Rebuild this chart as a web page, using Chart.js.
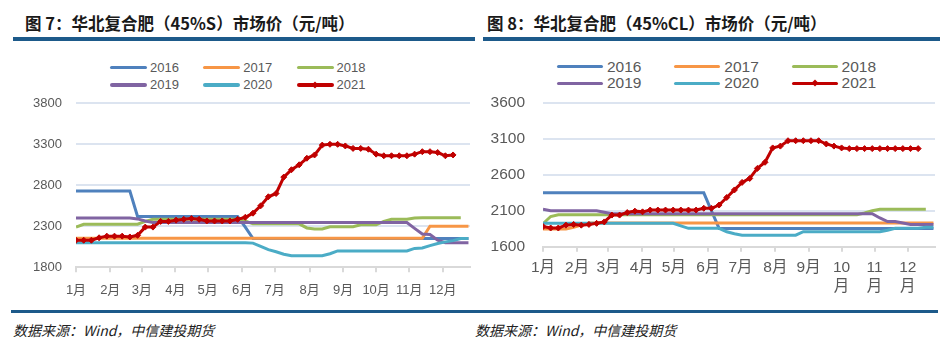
<!DOCTYPE html>
<html>
<head>
<meta charset="utf-8">
<script src="https://cdn.jsdelivr.net/npm/chart.js@4.4.1/dist/chart.umd.min.js"></script>
<style>
body { margin: 0; background: #fff; width: 951px; height: 349px; position: relative; overflow: hidden; }
.title { position: absolute; top: 12px; font: bold 16.5px "Noto Sans CJK SC", sans-serif; color: #1a1a1a; white-space: nowrap; line-height: 22px; }
.bar { position: absolute; background: #1d5a8a; }
.src { position: absolute; top: 320px; font: italic 14px "Noto Sans CJK SC", sans-serif; color: #222; line-height: 20px; white-space: nowrap; }
.legend { position: absolute; display: grid; color: #595959; font-family: "Liberation Sans", sans-serif; }
.item { display: flex; align-items: center; white-space: nowrap; }
.sw { position: relative; border-radius: 2px; }
.dia { position: absolute; left: 50%; top: 50%; width: 5px; height: 5px; transform: translate(-50%, -50%) rotate(45deg); }
canvas { position: absolute; }
</style>
</head>
<body>
<div class="title" style="left:25px">图 7：华北复合肥（45%S）市场价（元/吨）</div>
<div class="title" style="left:487px">图 8：华北复合肥（45%CL）市场价（元/吨）</div>
<div class="bar" style="left:13px;top:37px;width:462px;height:4px"></div>
<div class="bar" style="left:483px;top:37px;width:457px;height:4px"></div>
<div id="legL" class="legend"></div>
<div id="legR" class="legend"></div>
<canvas id="chartL" width="475" height="215" style="left:0;top:90px"></canvas>
<canvas id="chartR" width="476" height="215" style="left:475px;top:90px"></canvas>
<div class="bar" style="left:11px;top:310px;width:927px;height:3px"></div>
<div class="src" style="left:13px">数据来源：Wind，中信建投期货</div>
<div class="src" style="left:475px">数据来源：Wind，中信建投期货</div>
<script>
// weekly prices, index = week of year
var seriesNames = ['2016', '2017', '2018', '2019', '2020', '2021'];
var seriesColors = ['#4F81BD', '#F79646', '#9BBB59', '#8064A2', '#4BACC6', '#C00000'];

var monthTicks = [0, 4.45, 8.55, 12.9, 17.1, 21.6, 25.8, 30.35, 34.7, 39.0, 43.3, 47.65];
var monthLabelsL = ['1月', '2月', '3月', '4月', '5月', '6月', '7月', '8月', '9月', '10月', '11月', '12月'];
var monthLabelsR = ['1月', '2月', '3月', '4月', '5月', '6月', '7月', '8月', '9月', ['10', '月'], ['11', '月'], ['12', '月']];

// 图7 45%S
var yMinL = 1800, yMaxL = 3800;
var s2016L = [2730, 2730, 2730, 2730, 2730, 2730, 2730, 2730,
    2420, 2420, 2420, 2420, 2420, 2420, 2420, 2420, 2420, 2420, 2420, 2420, 2420, 2420,
    2290,
    2150, 2150, 2150, 2150, 2150, 2150, 2150, 2150, 2150, 2150, 2150, 2150, 2150, 2150, 2150,
    2150, 2150, 2150, 2150, 2150, 2150, 2150, 2150, 2150, 2150, 2150, 2150, 2150, 2150];
var s2017L = [2155, 2155, 2155, 2155, 2155, 2155, 2155, 2155, 2155, 2155, 2155, 2155, 2155, 2155, 2155, 2155,
    2155, 2155, 2155, 2155, 2155, 2155, 2155, 2155, 2155, 2155, 2155, 2155, 2155, 2155, 2155, 2155,
    2155, 2155, 2155, 2155, 2155, 2155, 2155, 2155, 2155, 2155, 2155, 2155, 2155, 2155,
    2300, 2300, 2300, 2300, 2300, 2300];
var s2018L = [2290, 2325, 2325, 2325, 2325, 2325, 2325, 2325, 2325, 2360,
    2385, 2385, 2385, 2385, 2385, 2385, 2385, 2385, 2385, 2385, 2385, 2385,
    2365, 2330, 2330, 2330, 2330, 2330, 2330, 2330, 2280, 2268, 2268,
    2295, 2295, 2295, 2295, 2318, 2318, 2318, 2360, 2386, 2386, 2386, 2400,
    2405, 2405, 2405, 2405, 2405, 2405];
var s2019L = [2400, 2400, 2400, 2400, 2400, 2400, 2400, 2400, 2390, 2365,
    2345, 2345, 2345, 2345, 2345, 2345, 2345, 2345, 2345, 2345, 2345, 2345, 2345, 2345, 2345, 2345, 2345,
    2345, 2345, 2345, 2345, 2345, 2345, 2345, 2345, 2345, 2345, 2345, 2345, 2345, 2345, 2345, 2345, 2345,
    2275, 2206, 2200, 2130, 2100, 2100, 2100, 2100];
var s2020L = [2100, 2100, 2100, 2100, 2100, 2100, 2100, 2100, 2100, 2100, 2100, 2100, 2100, 2100, 2100, 2100,
    2100, 2100, 2100, 2100, 2100, 2100, 2100,
    2095, 2055, 2015, 1990, 1960, 1940, 1940, 1940, 1940, 1940, 1965,
    2000, 2000, 2000, 2000, 2000, 2000, 2000, 2000, 2000, 2000,
    2030, 2035, 2065, 2090, 2110, 2125, 2150, 2150];
var s2021L = [2130, 2130, 2130, 2160, 2180, 2180, 2180, 2170, 2190, 2290,
    2290, 2360, 2360, 2375, 2385, 2395, 2385, 2365, 2365, 2365,
    2365, 2385, 2410, 2460, 2550, 2660, 2700, 2900, 2990, 3050,
    3130, 3170, 3290, 3300, 3300, 3280, 3250, 3250, 3240, 3180,
    3160, 3160, 3160, 3160, 3180, 3210, 3210, 3200, 3160, 3170];

// 图8 45%CL
var yMinR = 1600, yMaxR = 3600;
var s2016R = [2350, 2350, 2350, 2350, 2350, 2350, 2350, 2350, 2350, 2350, 2350,
    2350, 2350, 2350, 2350, 2350, 2350, 2350, 2350, 2350, 2350, 2350,
    2100,
    1855, 1855, 1855, 1855, 1855, 1855, 1855, 1855, 1855, 1855, 1855, 1855, 1855, 1855, 1855,
    1855, 1855, 1855, 1855, 1855, 1855, 1855, 1855, 1855, 1855, 1855, 1855, 1855, 1855];
var s2017R = [1845, 1845, 1845, 1845, 1870, 1900,
    1930, 1930, 1930, 1930, 1930, 1930, 1930, 1930, 1930, 1930, 1930, 1930, 1930, 1930, 1930, 1930,
    1930, 1930, 1930, 1930, 1930, 1930, 1930, 1930, 1930, 1930, 1930, 1930, 1930, 1930, 1930, 1930,
    1930, 1930, 1930, 1930, 1930, 1930, 1930, 1930, 1930, 1930, 1930, 1930, 1930, 1930];
var s2018R = [1920, 2020,
    2045, 2045, 2045, 2045, 2045, 2045, 2045, 2045, 2045, 2045, 2045, 2045, 2045, 2045, 2045, 2045, 2045, 2045, 2045, 2045,
    2045, 2045, 2045, 2045, 2045, 2045, 2045, 2045, 2045, 2045, 2045, 2045, 2045, 2045, 2045, 2045, 2045, 2045, 2045, 2045,
    2070, 2100, 2120, 2120, 2120, 2120, 2120, 2120, 2120];
var s2019R = [2120, 2100, 2100, 2100, 2100, 2100, 2100, 2100, 2080,
    2060, 2060, 2060, 2060, 2060, 2060, 2060, 2060, 2060, 2060, 2060, 2060, 2060, 2060, 2060, 2060, 2060, 2060,
    2060, 2060, 2060, 2060, 2060, 2060, 2060, 2060, 2060, 2060, 2060, 2060, 2060, 2060, 2060, 2060, 2060,
    2000, 1950, 1950, 1930, 1910, 1910, 1910, 1910];
var s2020R = [1925, 1925, 1925, 1925, 1925, 1925, 1925, 1925, 1925, 1925, 1925, 1925, 1925, 1925, 1925, 1925, 1925, 1925,
    1890, 1856, 1856, 1856, 1856, 1856, 1808, 1780,
    1760, 1760, 1760, 1760, 1760, 1760, 1760, 1760,
    1808, 1808, 1808, 1808, 1808, 1808, 1808, 1808, 1808, 1808, 1808,
    1830, 1856, 1856, 1856, 1856, 1870, 1870];
var s2021R = [1880, 1860, 1860, 1900, 1910, 1900, 1910, 1925, 1945, 2040,
    2040, 2075, 2095, 2085, 2110, 2110, 2110, 2110, 2110, 2110,
    2110, 2135, 2135, 2180, 2285, 2390, 2495, 2550, 2690, 2775,
    2975, 3000, 3075, 3075, 3075, 3075, 3075, 3030, 3000, 2975,
    2965, 2965, 2965, 2965, 2965, 2965, 2965, 2965, 2965, 2965];

var FONT = "'Liberation Sans', 'Noto Sans CJK SC', sans-serif";

function makeChart(id, series, opt) {
    var datasets = series.map(function (vals, i) {
        return {
            label: seriesNames[i],
            data: vals.map(function (v, w) { return { x: w, y: v }; }),
            borderColor: seriesColors[i],
            backgroundColor: seriesColors[i],
            borderWidth: 3,
            pointRadius: i === 5 ? 3 : 0,
            pointStyle: 'rectRot',
            pointBorderWidth: 1,
            order: 5 - i,
            tension: 0
        };
    });

    return new Chart(document.getElementById(id), {
        type: 'line',
        data: { datasets: datasets },
        options: {
            responsive: false,
            animation: false,
            devicePixelRatio: 1,
            layout: { padding: opt.padding },
            plugins: { legend: { display: false }, tooltip: { enabled: false } },
            scales: {
                x: {
                    type: 'linear',
                    min: 0,
                    max: 51.2,
                    afterBuildTicks: function (ax) { ax.ticks = monthTicks.map(function (v) { return { value: v }; }); },
                    afterFit: function (ax) { ax.height = opt.xHeight; },
                    grid: { drawOnChartArea: false, drawTicks: true, tickLength: 5, color: '#D9D9D9', lineWidth: 2 },
                    border: { display: true, color: '#D9D9D9', width: 2 },
                    ticks: {
                        autoSkip: false, maxRotation: 0, minRotation: 0,
                        padding: opt.xPad, color: '#595959',
                        font: { size: opt.fs, family: FONT },
                        callback: function (v, i) { return opt.labels[i]; }
                    }
                },
                y: {
                    min: opt.min,
                    max: opt.max,
                    afterFit: function (ax) {
                        ax.width = opt.yWidth;
                        // keep the plot top where the layout padding puts it
                        ax.paddingTop = 0;
                        ax.paddingBottom = 0;
                    },
                    grid: {
                        drawTicks: false, lineWidth: 2,
                        color: function (c) { return c.tick && c.tick.value === opt.min ? 'rgba(0,0,0,0)' : '#DCE4F0'; }
                    },
                    border: { display: false },
                    ticks: {
                        stepSize: 500, padding: opt.yPad, color: '#595959',
                        font: { size: opt.fs, family: FONT },
                        callback: function (v) { return String(v); }
                    }
                }
            }
        }
    });
}

function buildLegend(id, o) {
    var box = document.getElementById(id);
    box.style.left = o.left + 'px';
    box.style.top = o.top + 'px';
    box.style.gridTemplateColumns = 'repeat(3, ' + o.col + 'px)';
    box.style.gridAutoRows = o.row + 'px';
    box.style.fontSize = o.fs + 'px';
    seriesNames.forEach(function (name, i) {
        var item = document.createElement('div');
        item.className = 'item';
        var sw = document.createElement('span');
        sw.className = 'sw';
        sw.style.width = o.sw + 'px';
        sw.style.height = '3.5px';
        sw.style.marginRight = o.gap + 'px';
        sw.style.background = seriesColors[i];
        if (i === 5) {
            var d = document.createElement('span');
            d.className = 'dia';
            d.style.background = seriesColors[i];
            sw.appendChild(d);
        }
        var t = document.createElement('span');
        t.textContent = name;
        item.appendChild(sw);
        item.appendChild(t);
        box.appendChild(item);
    });
}

buildLegend('legL', { left: 110, top: 59, col: 93.3, row: 17.3, fs: 13, sw: 37, gap: 3 });
buildLegend('legR', { left: 557, top: 58.3, col: 117.3, row: 16.7, fs: 15.5, sw: 46, gap: 4 });

makeChart('chartL', [s2016L, s2017L, s2018L, s2019L, s2020L, s2021L], {
    min: yMinL, max: yMaxL, labels: monthLabelsL, fs: 13,
    padding: { top: 13.3, right: 1, left: 0, bottom: 0 },
    yWidth: 76, xHeight: 37.7, xPad: 10, yPad: 14
});
makeChart('chartR', [s2016R, s2017R, s2018R, s2019R, s2020R, s2021R], {
    min: yMinR, max: yMaxR, labels: monthLabelsR, fs: 15.5,
    padding: { top: 13, right: 16, left: 0, bottom: 0 },
    yWidth: 68, xHeight: 58.3, xPad: 7, yPad: 18
});
</script>
</body>
</html>
